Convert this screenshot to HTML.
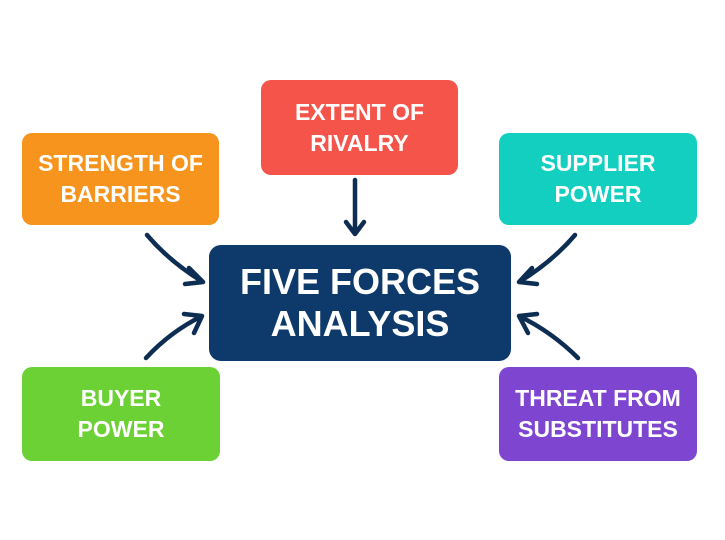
<!DOCTYPE html>
<html><head><style>
body{margin:0;width:725px;height:540px;background:#fff;position:relative;overflow:hidden;font-family:"Liberation Sans",sans-serif;}
.b{position:absolute;border-radius:10px;color:#fff;font-weight:bold;display:flex;align-items:center;justify-content:center;text-align:center;font-size:23px;line-height:31px;}
</style></head><body>
<div class="b" style="left:22px;top:133px;width:197px;height:92px;background:#F7941D">STRENGTH OF<br>BARRIERS</div>
<div class="b" style="left:261px;top:80px;width:197px;height:95px;background:#F4544A">EXTENT OF<br>RIVALRY</div>
<div class="b" style="left:499px;top:133px;width:198px;height:92px;background:#13CFC0">SUPPLIER<br>POWER</div>
<div class="b" style="left:209px;top:245px;width:302px;height:116px;background:#0D3A6B;font-size:36px;line-height:42px;border-radius:12px">FIVE FORCES<br>ANALYSIS</div>
<div class="b" style="left:22px;top:367px;width:198px;height:94px;background:#6CD134">BUYER<br>POWER</div>
<div class="b" style="left:499px;top:367px;width:198px;height:94px;background:#7E45D1">THREAT FROM<br>SUBSTITUTES</div>
<svg width="725" height="540" style="position:absolute;left:0;top:0" fill="none" stroke="#0D2D52" stroke-width="4.5" stroke-linecap="round" stroke-linejoin="round">
<path d="M147 235 Q170 262 203 282 M189 268 L203 282 L185 284"/>
<path d="M146 358 Q170 332 202 316 M184 314 L202 316 L194 333"/>
<path d="M355 180 L355 233 M346 222 L355 234 L364 222"/>
<path d="M575 235 Q552 262 519 282 M537 284 L519 282 L532 268"/>
<path d="M578 358 Q552 332 519 316 M528 333 L519 316 L537 314"/>
</svg>
</body></html>
